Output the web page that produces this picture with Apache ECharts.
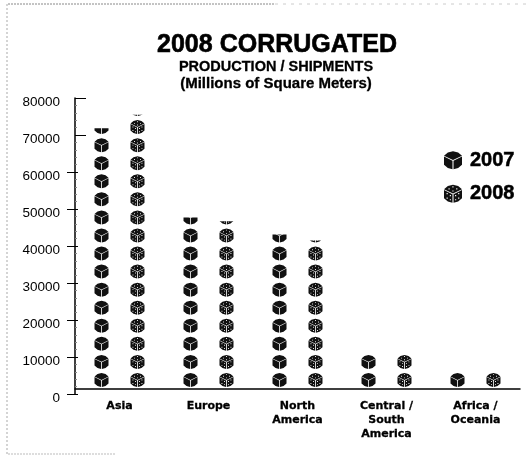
<!DOCTYPE html>
<html>
<head>
<meta charset="utf-8">
<script src="https://cdn.jsdelivr.net/npm/echarts@6/dist/echarts.min.js"></script>
<style>
html, body { margin: 0; padding: 0; background: #fff; }
#main { width: 530px; height: 455px; }
</style>
</head>
<body>
<div id="main"></div>
<script>
const regions = ['Asia', 'Europe', 'North\nAmerica', 'Central /\nSouth\nAmerica', 'Africa /\nOceania']
const values2007 = [71800, 47700, 43100, 10600, 5800]
const values2008 = [75500, 46700, 41500, 10700, 5700]
const outerTicks = [0, 10000, 20000, 30000, 40000, 50000, 60000]
const innerTicks = [70000, 80000]

// cube symbol: three rounded faces, the gaps between them make the white Y
const faces = 'M7 0L11 1L14 3.5L7 6.9L0 3.5L3 1Z' +
    'M0 4L6.6 7.4L6.6 14L3 13L0 10.5Z' +
    'M7.4 7.4L14 4L14 10.5L11 13L7.4 14Z'
function pip(x, y) {
    return `M${x} ${y}L${x} ${y + 0.9}L${x + 0.9} ${y + 0.9}L${x + 0.9} ${y}Z`
}
const pips = [[6.5, 1.2], [3.5, 2.8], [9.5, 2.8], [6.5, 4.4], [2, 6.5], [4.5, 8], [2, 10], [4.5, 11.2], [11, 6.5], [8.6, 8], [11, 10], [8.6, 11.2]]
const cube2007 = 'path://' + faces
const cube2008 = 'path://' + faces + pips.map(p => pip(p[0], p[1])).join('')

function cubeSeries(name, symbol, values) {
    return {
        name: name,
        type: 'pictorialBar',
        xAxisIndex: 1,
        yAxisIndex: 2,
        symbol: symbol,
        symbolSize: [14, 14],
        symbolRepeat: 16,
        symbolMargin: '1!',
        symbolBoundingData: 78100,
        symbolOffset: [0, -5],
        symbolClip: true,
        barWidth: 14,
        barGap: '157%',
        itemStyle: { color: '#111' },
        data: values
    }
}

const chart = echarts.init(document.getElementById('main'))
chart.setOption({
    animation: false,
    backgroundColor: '#fff',
    title: [
        {
            text: '2008 CORRUGATED',
            left: 277,
            top: 33,
            padding: 0,
            textAlign: 'center',
            textStyle: { fontFamily: 'Liberation Sans', fontSize: 25, fontWeight: 'bold', color: '#000', textBorderColor: '#000', textBorderWidth: 0.6 }
        },
        {
            text: 'PRODUCTION / SHIPMENTS',
            left: 276,
            top: 59,
            padding: 0,
            textAlign: 'center',
            textStyle: { fontFamily: 'Liberation Sans', fontSize: 14.5, fontWeight: 'bold', color: '#000', textBorderColor: '#000', textBorderWidth: 0.3 }
        },
        {
            text: '(Millions of Square Meters)',
            left: 276,
            top: 76,
            padding: 0,
            textAlign: 'center',
            textStyle: { fontFamily: 'Liberation Sans', fontSize: 15, fontWeight: 'bold', color: '#000', textBorderColor: '#000', textBorderWidth: 0.3 }
        }
    ],
    legend: {
        orient: 'vertical',
        left: 439,
        top: 145,
        itemWidth: 18,
        itemHeight: 18,
        itemGap: 13,
        textStyle: { fontFamily: 'Liberation Sans', fontSize: 20, fontWeight: 'bold', color: '#000', padding: [0, 0, 0, 3], textBorderColor: '#000', textBorderWidth: 0.5 },
        data: [
            { name: '2007', icon: cube2007 },
            { name: '2008', icon: cube2008 }
        ]
    },
    grid: [
        { left: 67, right: 18, top: 98, bottom: 61 },
        { left: 75, right: 10, top: 98, bottom: 66 }
    ],
    xAxis: [
        {
            // only carries the ticks, which sit left of the bands in the original
            type: 'category',
            gridIndex: 0,
            data: regions,
            axisLine: { show: false },
            axisTick: { inside: true, length: 7, lineStyle: { color: '#000' } },
            axisLabel: { show: false }
        },
        {
            type: 'category',
            gridIndex: 1,
            data: regions,
            axisLine: { lineStyle: { color: '#000', width: 1.5 } },
            axisTick: { show: false },
            axisLabel: {
                margin: 10,
                interval: 0,
                color: '#000',
                fontFamily: 'DejaVu Sans',
                fontSize: 11,
                fontWeight: 'bold',
                lineHeight: 14,
                textBorderColor: '#000',
                textBorderWidth: 0.3
            }
        }
    ],
    yAxis: [
        {
            type: 'value',
            gridIndex: 0,
            min: 0,
            max: 80000,
            interval: 10000,
            offset: -8,
            axisLine: { show: true, lineStyle: { color: '#000', width: 1.5 } },
            axisTick: { show: true, inside: true, length: 11, customValues: innerTicks, lineStyle: { color: '#000' } },
            minorTick: { show: true, splitNumber: 5, length: 2, lineStyle: { color: '#888' } },
            axisLabel: {
                margin: 15,
                color: '#000',
                fontFamily: 'Liberation Sans',
                fontSize: 13.5,
                verticalAlign: 'top',
                lineHeight: 9,
                formatter: v => String(v)
            },
            splitLine: { show: false }
        },
        {
            type: 'value',
            gridIndex: 0,
            position: 'left',
            min: 0,
            max: 80000,
            interval: 10000,
            offset: -11,
            axisLine: { show: false },
            axisTick: { show: true, length: 11, customValues: outerTicks, lineStyle: { color: '#000' } },
            axisLabel: { show: false },
            splitLine: { show: false }
        },
        {
            // the baseline of the original sits above its zero tick
            type: 'value',
            gridIndex: 1,
            min: 1355,
            max: 80000,
            show: false,
            splitLine: { show: false }
        }
    ],
    series: [
        cubeSeries('2007', cube2007, values2007),
        cubeSeries('2008', cube2008, values2008)
    ],
    graphic: [
        { type: 'line', silent: true, shape: { x1: 8, y1: 4, x2: 275, y2: 4 }, style: { stroke: '#888', lineDash: [2, 1] } },
        { type: 'line', silent: true, shape: { x1: 275, y1: 4, x2: 530, y2: 4 }, style: { stroke: '#ccc', lineDash: [3, 5] } },
        { type: 'line', silent: true, shape: { x1: 7, y1: 4, x2: 7, y2: 454 }, style: { stroke: '#aaa', lineDash: [2, 2] } },
        { type: 'line', silent: true, shape: { x1: 8, y1: 454, x2: 115, y2: 454 }, style: { stroke: '#bbb', lineDash: [2, 1] } }
    ]
})
</script>
</body>
</html>
